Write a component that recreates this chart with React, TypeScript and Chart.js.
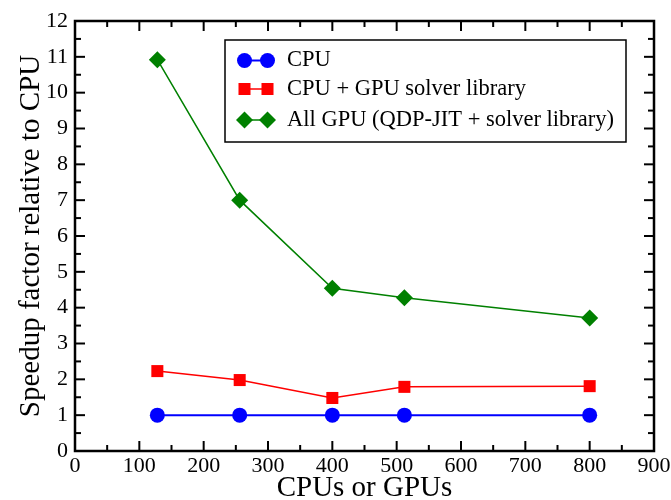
import React, { useEffect, useRef } from 'react';
import { Chart, registerables } from 'chart.js';

Chart.register(...registerables);

const gpuCounts = [128, 256, 400, 512, 800];
const cpuSpeedup = [1, 1, 1, 1, 1];
const cpuGpuSolver = [2.23, 1.98, 1.48, 1.79, 1.81];
const allGpu = [10.92, 7.0, 4.54, 4.28, 3.71];
const seriesLabels = ['CPU', 'CPU + GPU solver library', 'All GPU (QDP-JIT + solver library)'];
const xTitle = 'CPUs or GPUs';
const yTitle = 'Speedup factor relative to CPU';

const FONT = "'Liberation Serif', 'Times New Roman', serif";

const innerTicks = {
  id: 'innerTicks',
  afterDraw(chart: any) {
    const { ctx, chartArea: a, scales } = chart;
    const x = scales.x;
    const y = scales.y;
    ctx.save();
    ctx.strokeStyle = '#000';
    ctx.lineWidth = 2;
    const seg = (x1: number, y1: number, x2: number, y2: number) => {
      ctx.beginPath();
      ctx.moveTo(x1, y1);
      ctx.lineTo(x2, y2);
      ctx.stroke();
    };
    for (let v = 0; v <= 900; v += 50) {
      const px = x.getPixelForValue(v);
      const len = v % 100 === 0 ? 10 : 6;
      seg(px, a.bottom, px, a.bottom - len);
      seg(px, a.top, px, a.top + len);
    }
    for (let v = 0; v <= 12; v += 0.5) {
      const py = y.getPixelForValue(v);
      const len = v % 1 === 0 ? 10 : 6;
      seg(a.left, py, a.left + len, py);
      seg(a.right, py, a.right - len, py);
    }
    ctx.lineWidth = 2.5;
    ctx.strokeRect(a.left, a.top, a.right - a.left, a.bottom - a.top);
    ctx.restore();
  },
};

function drawMarker(ctx: CanvasRenderingContext2D, style: string, cx: number, cy: number, r: number) {
  ctx.beginPath();
  if (style === 'circle') {
    ctx.arc(cx, cy, r, 0, Math.PI * 2);
  } else if (style === 'rect') {
    const s = Math.SQRT1_2 * r;
    ctx.rect(cx - s, cy - s, 2 * s, 2 * s);
  } else {
    ctx.moveTo(cx, cy - r);
    ctx.lineTo(cx + r, cy);
    ctx.lineTo(cx, cy + r);
    ctx.lineTo(cx - r, cy);
    ctx.closePath();
  }
  ctx.fill();
}

const boxLegend = {
  id: 'boxLegend',
  afterDraw(chart: any) {
    const { ctx } = chart;
    const left = 225, top = 40, right = 626, bottom = 142;
    ctx.save();
    ctx.fillStyle = '#fff';
    ctx.fillRect(left, top, right - left, bottom - top);
    ctx.strokeStyle = '#000';
    ctx.lineWidth = 1.5;
    ctx.strokeRect(left, top, right - left, bottom - top);
    const rows = [60.5, 89, 120];
    chart.data.datasets.forEach((ds: any, i: number) => {
      const cy = rows[i];
      ctx.strokeStyle = ds.borderColor;
      ctx.lineWidth = ds.borderWidth;
      ctx.beginPath();
      ctx.moveTo(244.5, cy);
      ctx.lineTo(267.5, cy);
      ctx.stroke();
      ctx.fillStyle = ds.pointBackgroundColor;
      drawMarker(ctx, ds.pointStyle, 244.5, cy, ds.pointRadius);
      drawMarker(ctx, ds.pointStyle, 267.5, cy, ds.pointRadius);
      ctx.fillStyle = '#000';
      ctx.font = `22.5px ${FONT}`;
      ctx.textBaseline = 'middle';
      ctx.textAlign = 'left';
      ctx.fillText(ds.label, 287, cy);
    });
    ctx.restore();
  },
};

export default function App() {
  const ref = useRef<HTMLCanvasElement>(null);
  useEffect(() => {
    if (!ref.current) return;
    const mk = (vals: number[]) => gpuCounts.map((x, i) => ({ x, y: vals[i] }));
    const chart = new Chart(ref.current, {
      type: 'line',
      data: {
        datasets: [
          {
            label: seriesLabels[0],
            data: mk(cpuSpeedup),
            borderColor: '#0000ff',
            backgroundColor: '#0000ff',
            pointBackgroundColor: '#0000ff',
            pointBorderWidth: 0,
            borderWidth: 2,
            pointStyle: 'circle',
            pointRadius: 7.5,
          },
          {
            label: seriesLabels[1],
            data: mk(cpuGpuSolver),
            borderColor: '#ff0000',
            backgroundColor: '#ff0000',
            pointBackgroundColor: '#ff0000',
            pointBorderWidth: 0,
            borderWidth: 1.5,
            pointStyle: 'rect',
            pointRadius: 8.5,
          },
          {
            label: seriesLabels[2],
            data: mk(allGpu),
            borderColor: '#008000',
            backgroundColor: '#008000',
            pointBackgroundColor: '#008000',
            pointBorderWidth: 0,
            borderWidth: 1.5,
            pointStyle: 'rectRot',
            pointRadius: 8.5,
          },
        ] as any,
      },
      options: {
        animation: false,
        responsive: false,
        layout: { padding: { top: 21, right: 17, left: 0, bottom: 0 } },
        plugins: { legend: { display: false }, tooltip: { enabled: false } },
        scales: {
          x: {
            type: 'linear',
            min: 0,
            max: 900,
            ticks: { stepSize: 100, color: '#000', font: { family: FONT, size: 22 }, padding: 2, maxRotation: 0 },
            grid: { display: false, drawTicks: false },
            border: { display: false },
            title: { display: true, text: xTitle, color: '#000', font: { family: FONT, size: 29, lineHeight: 0.8 }, padding: 0 },
            afterFit: (s: any) => { s.height = 49; s.paddingLeft = 0; s.paddingRight = 0; },
          },
          y: {
            type: 'linear',
            min: 0,
            max: 12,
            ticks: { stepSize: 1, color: '#000', font: { family: FONT, size: 22 }, padding: 7 },
            grid: { display: false, drawTicks: false },
            border: { display: false },
            title: { display: true, text: yTitle, color: '#000', font: { family: FONT, size: 29, lineHeight: 1 }, padding: { top: 17, bottom: 0 } },
            afterFit: (s: any) => { s.width = 75; s.paddingTop = 0; s.paddingBottom = 0; },
          },
        },
      } as any,
      plugins: [innerTicks, boxLegend],
    });
    return () => chart.destroy();
  }, []);
  return (
    <div style={{ position: 'fixed', left: 0, top: 0, width: 671, height: 500, background: '#fff' }}>
      <canvas ref={ref} width={671} height={500} />
    </div>
  );
}
